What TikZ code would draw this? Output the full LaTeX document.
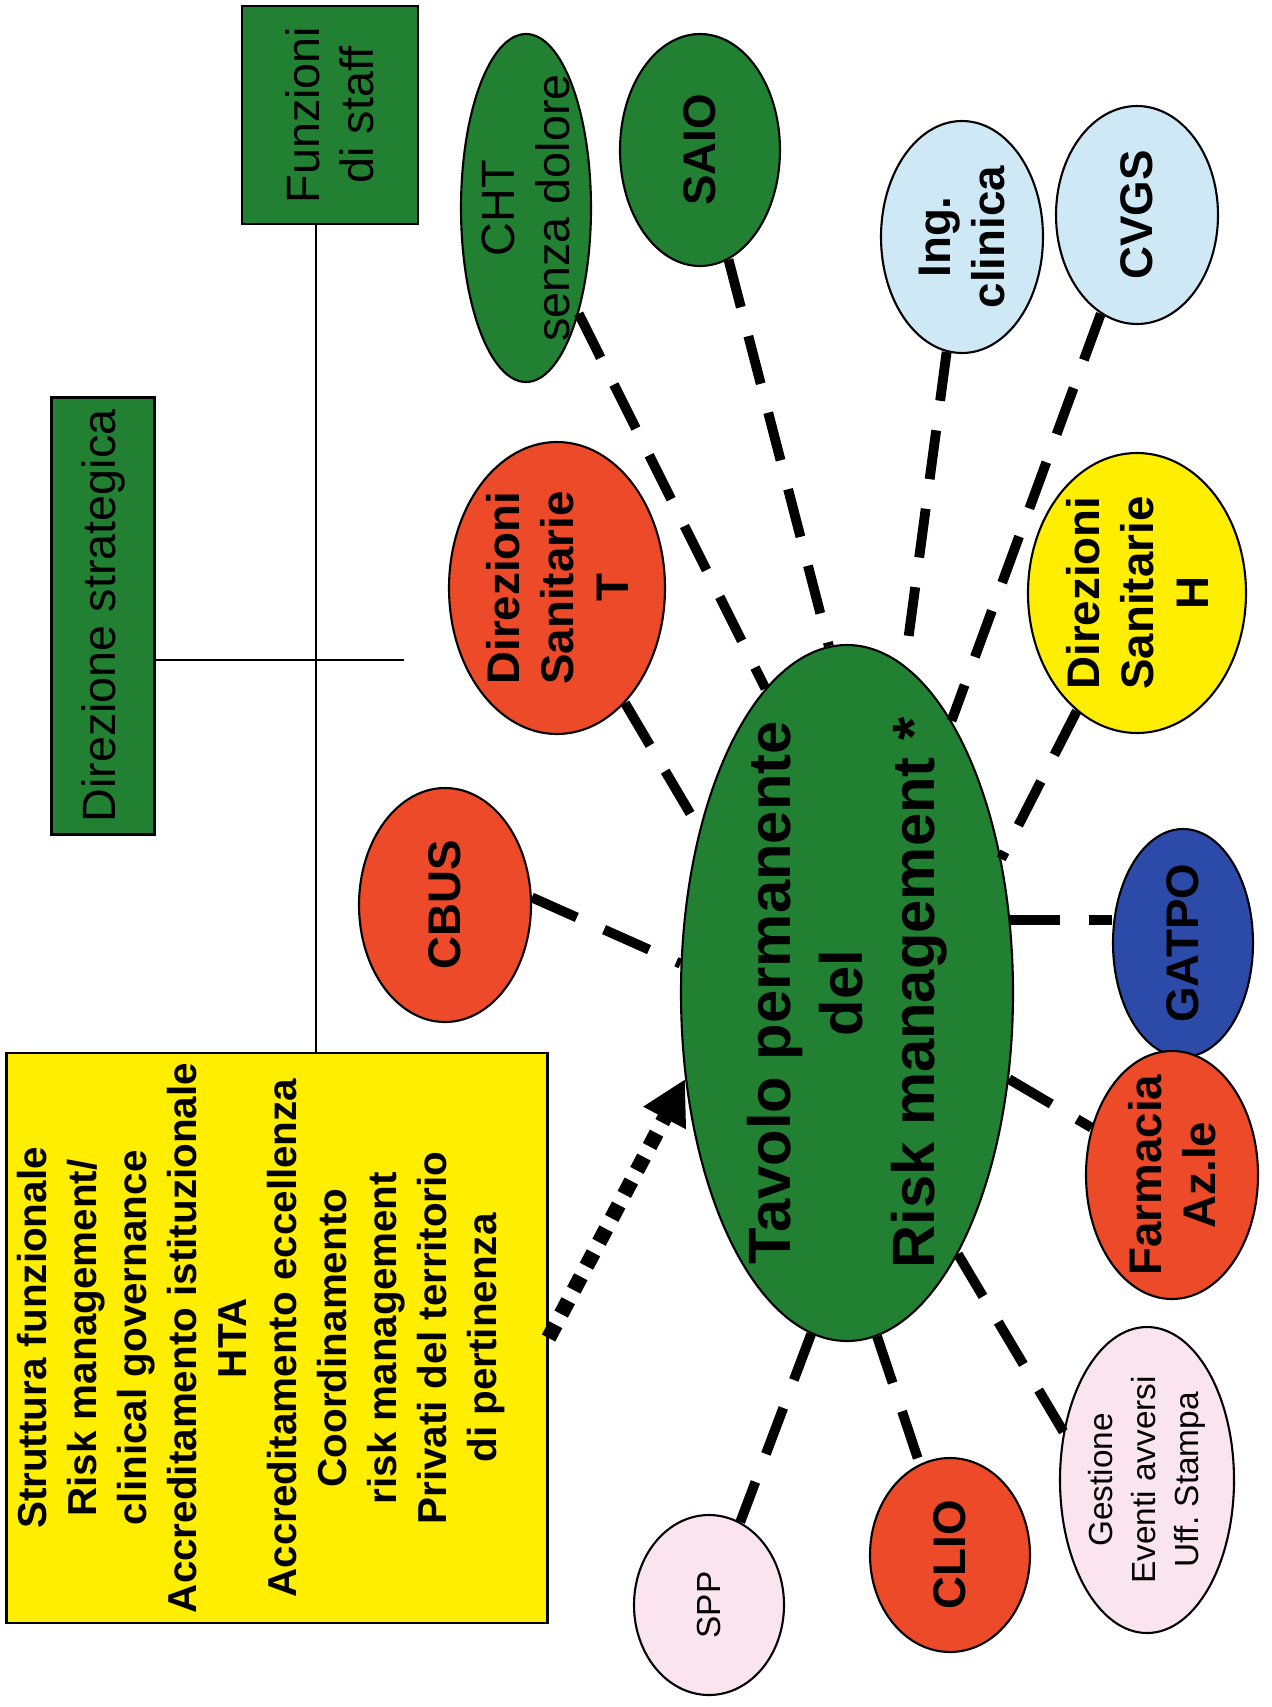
\documentclass[tikz,border=0pt]{standalone}
\usepackage{fontspec}
\setmainfont{Liberation Sans}
\usetikzlibrary{arrows.meta,
                shapes.geometric}

\definecolor{boxgreen}{RGB}{33,128,50}
\definecolor{bubblered}{RGB}{236,74,40}
\definecolor{boxyellow}{RGB}{255,238,0}
\definecolor{paleblue}{RGB}{207,232,246}
\definecolor{palepink}{RGB}{250,228,240}
\definecolor{deepblue}{RGB}{44,74,168}

\tikzset{
  org/.style={draw, line width=0.6pt, inner sep=0pt},
  bubble/.style={draw, ellipse, line width=0.6pt, inner sep=0pt},
  lbl/.style={rotate=90, align=center, inner sep=0pt,
              font=\fontsize{13}{15.5}\selectfont\bfseries},
  plainlbl/.style={rotate=90, align=center, inner sep=0pt,
              font=\fontsize{13.3}{15.5}\selectfont},
  smalllbl/.style={rotate=90, align=center, inner sep=0pt,
              font=\fontsize{9.5}{12.2}\selectfont},
  boxlbl/.style={rotate=90, align=center, inner sep=0pt,
              font=\fontsize{11.5}{14.2}\selectfont\bfseries},
  link/.style={line width=2.8pt, dash pattern=on 14pt off 8.5pt},
  feed/.style={line width=4.3pt, dash pattern=on 4.3pt off 3.4pt,
               -{Triangle[length=4.4mm,width=4.5mm]}}
}
\frenchspacing

\begin{document}
\begin{tikzpicture}[x=0.1mm, y=-0.1mm]
\useasboundingbox (0,0) rectangle (1271,1707);

% organigramma
\node (direzione) [org, fill=boxgreen, minimum width=10.3mm, minimum height=43.7mm] at (103,616) {};
\node (direzione-t) [plainlbl] at (direzione) {Direzione strategica};
\node (funzioni) [org, fill=boxgreen, minimum width=17.6mm, minimum height=21.8mm] at (330,115) {};
\node (funzioni-t) [plainlbl] at (funzioni) {Funzioni\\di staff};
\node (struttura) [org, fill=boxyellow, minimum width=54.1mm, minimum height=57mm] at (277,1338) {};
\node (struttura-t) [boxlbl] at (261,1338) {Struttura funzionale\\Risk management/\\clinical governance\\Accreditamento istituzionale\\HTA\\Accreditamento eccellenza\\Coordinamento\\risk management\\Privati del territorio\\di pertinenza};
\coordinate (spine) at (316,660);
\coordinate (tee) at (404,660);
\draw [line width=0.6pt] (funzioni.south -| spine) -- (struttura.north -| spine);
\draw [line width=0.6pt] (direzione.east |- spine) -- (tee);

% tavolo e satelliti
\node (tavolo) [bubble, fill=boxgreen, minimum width=33.2mm, minimum height=69.6mm] at (847,993) {};
\node (tavolo-t) [lbl, font=\fontsize{17}{20.4}\selectfont\bfseries] at (tavolo) {Tavolo permanente\\del\\Risk management *};

\node (cbus) [bubble, fill=bubblered, minimum width=17.2mm, minimum height=23.4mm] at (445,905) {};
\node (dirt) [bubble, fill=bubblered, minimum width=21.6mm, minimum height=29.2mm] at (557,588) {};
\node (cht) [bubble, fill=boxgreen, minimum width=13mm, minimum height=34.8mm] at (526,208) {};
\node (saio) [bubble, fill=boxgreen, minimum width=16mm, minimum height=23.2mm] at (700,150) {};
\node (ing) [bubble, fill=paleblue, minimum width=16.2mm, minimum height=23.2mm] at (962,237) {};
\node (cvgs) [bubble, fill=paleblue, minimum width=16.2mm, minimum height=21.8mm] at (1137,215) {};
\node (dirh) [bubble, fill=boxyellow, minimum width=21.8mm, minimum height=28mm] at (1137,593) {};
\node (gatpo) [bubble, fill=deepblue, minimum width=14mm, minimum height=22.8mm] at (1183,943) {};
\node (farmacia) [bubble, fill=bubblered, minimum width=17.2mm, minimum height=24.8mm] at (1172,1175) {};
\node (gestione) [bubble, fill=palepink, minimum width=17.4mm, minimum height=30.6mm] at (1147,1480) {};
\node (clio) [bubble, fill=bubblered, minimum width=16mm, minimum height=19.4mm] at (950,1555) {};
\node (spp) [bubble, fill=palepink, minimum width=15mm, minimum height=18mm] at (709,1605) {};

\foreach \n/\t in {cbus/CBUS, saio/SAIO, cvgs/CVGS, gatpo/GATPO, clio/CLIO,
                   dirt/{Direzioni\\Sanitarie\\T}, dirh/{Direzioni\\Sanitarie\\H},
                   ing/{Ing.\\clinica}, farmacia/{Farmacia\\Az.le}}
  \node (\n-t) [lbl] at (\n) {\t};
\node (cht-t) [plainlbl] at (cht) {CHT\\senza dolore};
\node (gestione-t) [smalllbl] at (gestione) {Gestione\\Eventi avversi\\Uff. Stampa};
\node (spp-t) [smalllbl] at (spp) {SPP};

% collegamenti
\foreach \a/\b in {cbus.5/tavolo.170, dirt/tavolo.132, cht/tavolo.105, saio/tavolo.93,
                   ing/tavolo.80, cvgs/tavolo.69, dirh/tavolo.41, tavolo.332/farmacia,
                   tavolo.293/gestione.150, tavolo.275/clio, tavolo.264/spp}
  \draw [link] (\a) -- (\b);
\draw [link] (tavolo.24) -- (tavolo.24 -| gatpo.west);
\draw [feed] (struttura.east) -- (tavolo.208);
\end{tikzpicture}
\end{document}
